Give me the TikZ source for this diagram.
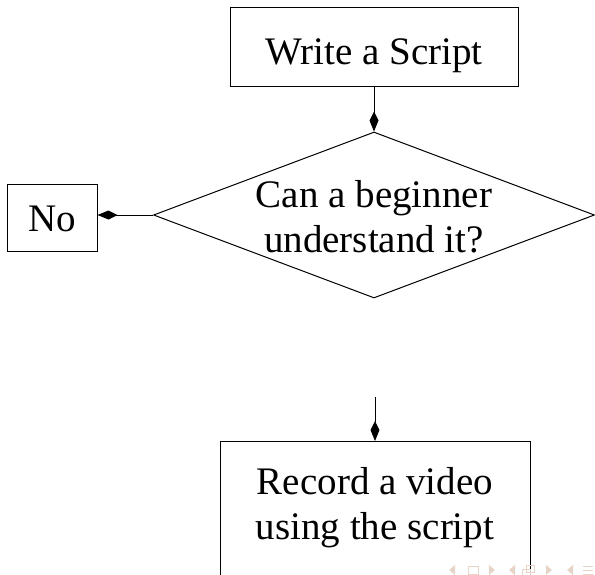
\documentclass[tikz,border=0pt]{standalone}
\usepackage{fontspec}
\setmainfont{Liberation Serif}
\usetikzlibrary{shapes.geometric,arrows.meta}
\definecolor{navcol}{RGB}{232,212,198}
\begin{document}
\begin{tikzpicture}[x=1pt,y=-1pt,
  every node/.style={font=\fontsize{39}{45}\selectfont},
  box/.style={draw, line width=1pt, rectangle, inner sep=0pt},
  decision/.style={draw, diamond, line width=1pt, inner sep=0pt},
  txt/.style={align=center, inner sep=0pt},
  arr/.style={line width=1pt, -{Kite[length=20pt,width=9pt,inset=9pt]}},
  nav/.style={navcol, line width=1pt},
]
\useasboundingbox (0,0) rectangle (595,574);

\node[box, minimum width=288pt, text height=57pt, text depth=22pt] (write) at (374,46.5) {Write a Script};
\node[decision, minimum width=441pt, minimum height=166pt] (q) at (374,215) {};
\node[txt] (qtext) at (374,217) {Can a beginner\\understand it?};
\node[box, minimum width=90pt, text height=47pt, text depth=20pt] (no) at (52,217.5) {No};
\node[box, minimum width=310pt, minimum height=170pt, anchor=north] (rec) at (375,441) {};
\node[txt] (rectext) at (375,508) {Record a video\\using the script};
\coordinate (yesend) at (375,397);

\draw[arr] (write.south) -- (q.north);
\draw[arr] (q.west) -- (q.west -| no.east);
\draw[arr] (yesend) -- (rec.north);

% navigation symbols
\fill[navcol] (455,565) -- (449,570) -- (455,575) -- cycle;
\draw[nav] (468,566) rectangle (478,574);
\fill[navcol] (489,565) -- (495,570) -- (489,575) -- cycle;
\fill[navcol] (515,565) -- (509,570) -- (515,575) -- cycle;
\draw[nav] (522,569) rectangle (530,576);
\draw[nav] (526,565) rectangle (534,572);
\fill[navcol] (546,565) -- (552,570) -- (546,575) -- cycle;
\fill[navcol] (573,565) -- (567,570) -- (573,575) -- cycle;
\draw[nav] (583,566) -- (593,566) (583,570) -- (593,570) (583,574) -- (593,574);
\end{tikzpicture}
\end{document}
